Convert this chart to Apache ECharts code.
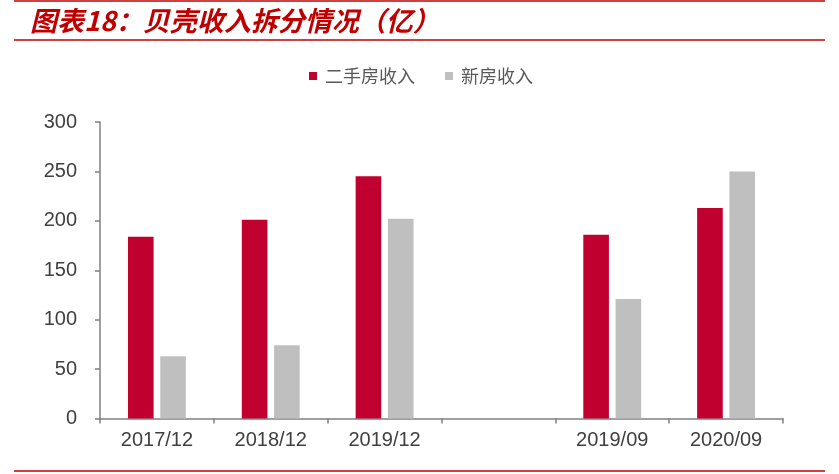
<!DOCTYPE html>
<html>
<head>
<meta charset="utf-8">
<script src="https://cdn.jsdelivr.net/npm/echarts@6/dist/echarts.min.js"></script>
<style>
  html, body { margin: 0; padding: 0; background: #fff; }
  #chart { width: 839px; height: 474px; }
</style>
</head>
<body>
<div id="chart"></div>
<script>
// 数据
const categories = ['2017/12', '2018/12', '2019/12', '', '2019/09', '2020/09'];
const secondHand = [184, 201, 245, null, 186, 213]; // 二手房收入
const newHome = [63, 74, 202, null, 121, 250];      // 新房收入
const yTicks = [0, 50, 100, 150, 200, 250, 300];

const RED = '#C00000';
const myChart = echarts.init(document.getElementById('chart'));

const option = {
  backgroundColor: '#fff',
  animation: false,
  title: {
    text: '图表18：贝壳收入拆分情况（亿）',
    left: 25,
    top: 2,
    textStyle: {
      color: RED,
      fontSize: 27,
      fontStyle: 'italic',
      fontWeight: 'bold',
      fontFamily: '"Noto Sans CJK SC", sans-serif'
    }
  },
  legend: {
    left: 304,
    top: 62,
    itemWidth: 8,
    itemHeight: 8,
    itemGap: 30,
    icon: 'rect',
    textStyle: {
      color: '#595959',
      fontSize: 18,
      padding: [0, 0, 0, 3],
      fontFamily: '"Noto Sans CJK SC", sans-serif'
    },
    data: ['二手房收入', '新房收入']
  },
  grid: { left: 100, right: 56, top: 122, bottom: 55.5 },
  xAxis: {
    type: 'category',
    data: categories,
    axisLine: { lineStyle: { color: '#808080', width: 1.5 } },
    axisTick: { show: true, length: 5, lineStyle: { color: '#808080', width: 1.5 } },
    axisLabel: {
      color: '#404040',
      fontSize: 20,
      margin: 12,
      fontFamily: 'Arial, "Liberation Sans", sans-serif'
    }
  },
  yAxis: {
    type: 'value',
    min: yTicks[0],
    max: yTicks[yTicks.length - 1],
    interval: 50,
    axisLine: { show: true, lineStyle: { color: '#808080', width: 1.5 } },
    axisTick: { show: true, length: 5, lineStyle: { color: '#808080', width: 1.5 } },
    splitLine: { show: false },
    axisLabel: {
      color: '#404040',
      fontSize: 20,
      margin: 23,
      fontFamily: 'Arial, "Liberation Sans", sans-serif'
    }
  },
  series: [
    {
      name: '二手房收入',
      type: 'bar',
      data: secondHand,
      barWidth: '22.5%',
      barGap: '26%',
      itemStyle: { color: '#C0002F' }
    },
    {
      name: '新房收入',
      type: 'bar',
      data: newHome,
      barWidth: '22.5%',
      itemStyle: { color: '#BFBFBF' }
    }
  ],
  // 标题上下的红线
  graphic: [
    { type: 'line', shape: { x1: 14, y1: 1, x2: 825, y2: 1 }, style: { stroke: RED, lineWidth: 1.5 } },
    { type: 'line', shape: { x1: 14, y1: 40, x2: 825, y2: 40 }, style: { stroke: RED, lineWidth: 1.5 } },
    { type: 'line', shape: { x1: 14, y1: 471, x2: 825, y2: 471 }, style: { stroke: RED, lineWidth: 1.5 } }
  ]
};

myChart.setOption(option);
</script>
</body>
</html>
